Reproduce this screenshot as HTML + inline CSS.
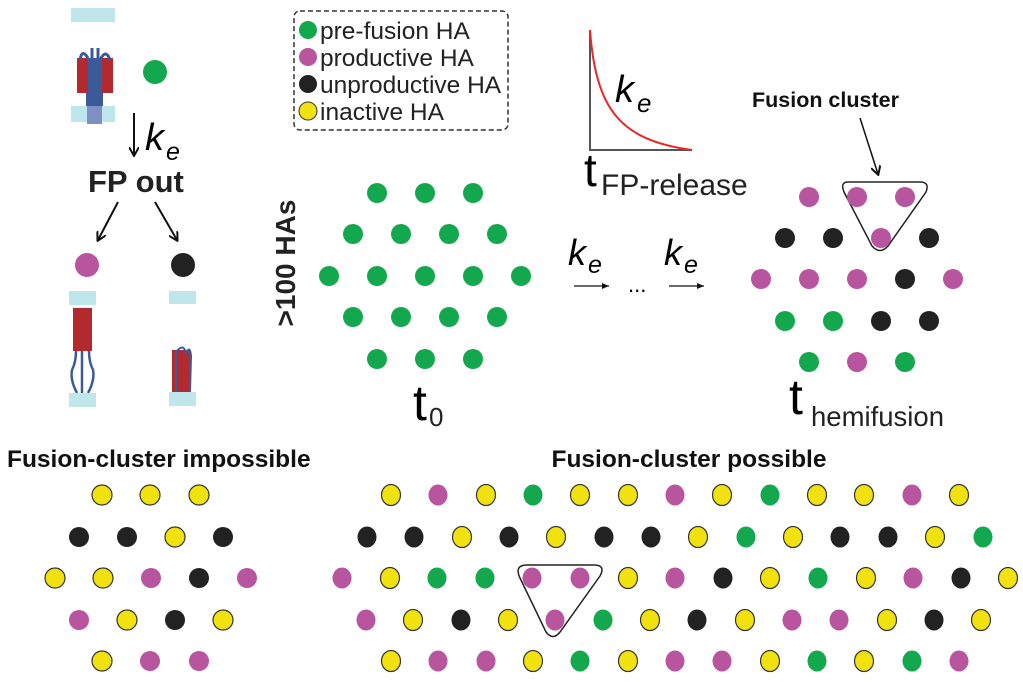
<!DOCTYPE html>
<html><head><meta charset="utf-8"><style>
html,body{margin:0;padding:0;background:#fff;width:1023px;height:682px;overflow:hidden}
svg{display:block;font-family:"Liberation Sans",Arial,sans-serif}
.Y{fill:#f1e20f;stroke:#333;stroke-width:1.2}
.M{fill:#b8559e}.B{fill:#222}.G{fill:#14a84e}
</style></head><body>
<svg width="1023" height="682" viewBox="0 0 1023 682" xmlns="http://www.w3.org/2000/svg">
<defs>
<marker id="ah" markerWidth="10" markerHeight="10" refX="8" refY="5" orient="auto" markerUnits="userSpaceOnUse"><path d="M0,0 L9,5 L0,10" fill="none" stroke="#111" stroke-width="2"/></marker>
<marker id="ah2" markerWidth="8" markerHeight="6" refX="7" refY="3" orient="auto" markerUnits="userSpaceOnUse"><path d="M0,0 L7,3 L0,6 Z" fill="#111"/></marker>
</defs>
<!-- left protein illustrations -->
<rect x="71" y="8" width="44" height="14" fill="#bfe6ea"/>
<rect x="71" y="106" width="44" height="16" fill="#bfe6ea"/>
<rect x="86" y="58" width="17" height="48" fill="#3a5a9a"/>
<rect x="77" y="58" width="11" height="35" fill="#b22a2e"/>
<rect x="102" y="58" width="11" height="35" fill="#b22a2e"/>
<rect x="87" y="106" width="15" height="18" fill="#7d8fc4"/>
<path d="M80,60 Q82,48 88,58 M92,58 L92,48 M98,58 L98,48 M100,60 Q106,48 110,60" stroke="#3a5a9a" stroke-width="3" fill="none"/>
<circle cx="155" cy="72" r="12" fill="#14a84e"/>
<line x1="134" y1="113" x2="134" y2="155" stroke="#111" stroke-width="2" marker-end="url(#ah)"/>
<text x="145" y="150" font-size="38" font-style="italic">k</text>
<text x="166" y="160" font-size="25" font-style="italic">e</text>
<text x="88" y="192" font-size="31" font-weight="bold" fill="#222">FP out</text>
<line x1="118" y1="202" x2="98" y2="240" stroke="#111" stroke-width="2" marker-end="url(#ah)"/>
<line x1="155" y1="202" x2="177" y2="240" stroke="#111" stroke-width="2" marker-end="url(#ah)"/>
<circle cx="87" cy="265" r="12" fill="#b8559e"/>
<circle cx="183" cy="265" r="12" fill="#222"/>
<rect x="69" y="291" width="27" height="14" fill="#bfe6ea"/>
<rect x="73" y="308" width="19" height="43" fill="#b22a2e"/>
<path d="M76,351 Q76,362 72,370 Q70,380 77,393 M82,351 L82,395 M89,351 Q89,362 93,370 Q95,380 88,393" stroke="#3a5a9a" stroke-width="2.5" fill="none"/>
<rect x="69" y="393" width="27" height="14" fill="#bfe6ea"/>
<rect x="169" y="291" width="27" height="13" fill="#bfe6ea"/>
<rect x="172" y="350" width="18" height="42" fill="#b22a2e"/>
<path d="M176,394 L176,352 Q184,342 186,354 Q190,344 191,356 L190,392" stroke="#3a5a9a" stroke-width="2" fill="none"/>
<rect x="169" y="392" width="27" height="14" fill="#bfe6ea"/>

<!-- legend -->
<rect x="294" y="11" width="214" height="119" rx="6" fill="none" stroke="#333" stroke-width="1.5" stroke-dasharray="5,3"/>
<circle cx="308" cy="30" r="9" fill="#14a84e"/>
<circle cx="308" cy="57" r="9" fill="#b8559e"/>
<circle cx="308" cy="84" r="9" fill="#222"/>
<circle cx="308" cy="111" r="9" fill="#f1e20f" stroke="#333" stroke-width="1"/>
<g font-size="24.5" fill="#222">
<text x="320" y="39">pre-fusion HA</text>
<text x="320" y="66">productive HA</text>
<text x="320" y="93">unproductive HA</text>
<text x="320" y="120">inactive HA</text>
</g>

<!-- plot -->
<path d="M590,30 L590,150 L692,150" stroke="#555" stroke-width="2" fill="none"/>
<path d="M590,30 C596,110 620,140 692,150" stroke="#e8282a" stroke-width="2" fill="none"/>
<text x="615" y="102" font-size="38" font-style="italic">k</text>
<text x="637" y="112" font-size="26" font-style="italic">e</text>
<text x="584" y="186" font-size="46">t</text>
<text x="601" y="195" font-size="30" fill="#222">FP-release</text>

<!-- >100 HAs -->
<text transform="translate(295,263) rotate(-90)" text-anchor="middle" font-size="28" font-weight="bold" fill="#222">&gt;100 HAs</text>

<!-- t0 hex -->
<g fill="#14a84e">
<circle cx="377" cy="193" r="10"/><circle cx="425" cy="193" r="10"/><circle cx="473" cy="193" r="10"/>
<circle cx="353" cy="234" r="10"/><circle cx="401" cy="234" r="10"/><circle cx="449" cy="234" r="10"/><circle cx="497" cy="234" r="10"/>
<circle cx="329" cy="276" r="10"/><circle cx="377" cy="276" r="10"/><circle cx="425" cy="276" r="10"/><circle cx="473" cy="276" r="10"/><circle cx="521" cy="276" r="10"/>
<circle cx="353" cy="317" r="10"/><circle cx="401" cy="317" r="10"/><circle cx="449" cy="317" r="10"/><circle cx="497" cy="317" r="10"/>
<circle cx="377" cy="359" r="10"/><circle cx="425" cy="359" r="10"/><circle cx="473" cy="359" r="10"/>
</g>
<text x="413" y="420" font-size="50">t</text>
<text x="429" y="426" font-size="26" fill="#222">0</text>

<!-- arrows k_e -->
<text x="568" y="265" font-size="36" font-style="italic">k</text>
<text x="588" y="273" font-size="25" font-style="italic">e</text>
<line x1="574" y1="286" x2="609" y2="286" stroke="#111" stroke-width="1.3" marker-end="url(#ah2)"/>
<text x="628" y="292" font-size="22">...</text>
<text x="664" y="265" font-size="36" font-style="italic">k</text>
<text x="684" y="273" font-size="25" font-style="italic">e</text>
<line x1="669" y1="286" x2="704" y2="286" stroke="#111" stroke-width="1.3" marker-end="url(#ah2)"/>

<!-- t hemifusion -->
<text x="752" y="107" font-size="21.5" font-weight="bold" fill="#111">Fusion cluster</text>
<line x1="860" y1="118" x2="878" y2="174" stroke="#111" stroke-width="1.5" marker-end="url(#ah)"/>
<path d="M848,182 L920,182 Q930,182 926,192 L888,246 Q880,255 872,246 L844,192 Q840,182 848,182 Z" fill="none" stroke="#222" stroke-width="1.5"/>
<g>
<circle cx="809" cy="197" r="10" fill="#b8559e"/><circle cx="857" cy="197" r="10" fill="#b8559e"/><circle cx="905" cy="197" r="10" fill="#b8559e"/>
<circle cx="785" cy="238" r="10" fill="#222"/><circle cx="833" cy="238" r="10" fill="#222"/><circle cx="881" cy="238" r="10" fill="#b8559e"/><circle cx="929" cy="238" r="10" fill="#222"/>
<circle cx="761" cy="279" r="10" fill="#b8559e"/><circle cx="809" cy="279" r="10" fill="#b8559e"/><circle cx="857" cy="279" r="10" fill="#b8559e"/><circle cx="905" cy="279" r="10" fill="#222"/><circle cx="953" cy="279" r="10" fill="#b8559e"/>
<circle cx="785" cy="321" r="10" fill="#14a84e"/><circle cx="833" cy="321" r="10" fill="#14a84e"/><circle cx="881" cy="321" r="10" fill="#222"/><circle cx="929" cy="321" r="10" fill="#222"/>
<circle cx="809" cy="362" r="10" fill="#14a84e"/><circle cx="857" cy="362" r="10" fill="#b8559e"/><circle cx="905" cy="362" r="10" fill="#14a84e"/>
</g>
<text x="789" y="414" font-size="50">t</text>
<text x="811" y="426" font-size="27.5" fill="#222">hemifusion</text>

<!-- bottom titles -->
<text x="7" y="467" font-size="24.5" font-weight="bold" fill="#111">Fusion-cluster impossible</text>
<text x="689" y="467" font-size="24.5" font-weight="bold" fill="#111" text-anchor="middle">Fusion-cluster possible</text>

<path d="M527,565 L594,565 Q606,565 600,576 L560,632 Q553,641 546,632 L520,578 Q514,565 527,565 Z" fill="none" stroke="#222" stroke-width="1.5"/>

<!-- bottom-left grid -->
<g>
<circle class="Y" cx="102" cy="495" r="10"/><circle class="Y" cx="150" cy="495" r="10"/><circle class="Y" cx="199" cy="495" r="10"/>
<circle class="B" cx="79" cy="537" r="10"/><circle class="B" cx="127" cy="537" r="10"/><circle class="Y" cx="175" cy="537" r="10"/><circle class="B" cx="223" cy="537" r="10"/>
<circle class="Y" cx="55" cy="578" r="10"/><circle class="Y" cx="103" cy="578" r="10"/><circle class="M" cx="151" cy="578" r="10"/><circle class="B" cx="199" cy="578" r="10"/><circle class="M" cx="247" cy="578" r="10"/>
<circle class="M" cx="79" cy="620" r="10"/><circle class="Y" cx="127" cy="620" r="10"/><circle class="B" cx="175" cy="620" r="10"/><circle class="Y" cx="223" cy="620" r="10"/>
<circle class="Y" cx="102" cy="661" r="10"/><circle class="M" cx="150" cy="661" r="10"/><circle class="M" cx="199" cy="661" r="10"/>
</g>
<!-- bottom-right grid -->
<g>
<ellipse class="Y" cx="391" cy="495" rx="9.5" ry="10.5"/><ellipse class="M" cx="438" cy="495" rx="9.5" ry="10.5"/><ellipse class="Y" cx="486" cy="495" rx="9.5" ry="10.5"/><ellipse class="G" cx="533" cy="495" rx="9.5" ry="10.5"/><ellipse class="Y" cx="580" cy="495" rx="9.5" ry="10.5"/><ellipse class="Y" cx="628" cy="495" rx="9.5" ry="10.5"/><ellipse class="M" cx="675" cy="495" rx="9.5" ry="10.5"/><ellipse class="Y" cx="722" cy="495" rx="9.5" ry="10.5"/><ellipse class="G" cx="770" cy="495" rx="9.5" ry="10.5"/><ellipse class="Y" cx="817" cy="495" rx="9.5" ry="10.5"/><ellipse class="Y" cx="864" cy="495" rx="9.5" ry="10.5"/><ellipse class="M" cx="912" cy="495" rx="9.5" ry="10.5"/><ellipse class="Y" cx="959" cy="495" rx="9.5" ry="10.5"/>

<ellipse class="B" cx="367" cy="537" rx="9.5" ry="10.5"/><ellipse class="B" cx="414" cy="537" rx="9.5" ry="10.5"/><ellipse class="Y" cx="462" cy="537" rx="9.5" ry="10.5"/><ellipse class="B" cx="509" cy="537" rx="9.5" ry="10.5"/><ellipse class="Y" cx="556" cy="537" rx="9.5" ry="10.5"/><ellipse class="B" cx="604" cy="537" rx="9.5" ry="10.5"/><ellipse class="B" cx="651" cy="537" rx="9.5" ry="10.5"/><ellipse class="Y" cx="698" cy="537" rx="9.5" ry="10.5"/><ellipse class="G" cx="746" cy="537" rx="9.5" ry="10.5"/><ellipse class="Y" cx="793" cy="537" rx="9.5" ry="10.5"/><ellipse class="B" cx="840" cy="537" rx="9.5" ry="10.5"/><ellipse class="B" cx="888" cy="537" rx="9.5" ry="10.5"/><ellipse class="Y" cx="935" cy="537" rx="9.5" ry="10.5"/><ellipse class="G" cx="983" cy="537" rx="9.5" ry="10.5"/>

<ellipse class="M" cx="342" cy="578" rx="9.5" ry="10.5"/><ellipse class="Y" cx="390" cy="578" rx="9.5" ry="10.5"/><ellipse class="G" cx="437" cy="578" rx="9.5" ry="10.5"/><ellipse class="G" cx="485" cy="578" rx="9.5" ry="10.5"/><ellipse class="M" cx="532" cy="578" rx="9.5" ry="10.5"/><ellipse class="M" cx="580" cy="578" rx="9.5" ry="10.5"/><ellipse class="Y" cx="628" cy="578" rx="9.5" ry="10.5"/><ellipse class="M" cx="675" cy="578" rx="9.5" ry="10.5"/><ellipse class="B" cx="723" cy="578" rx="9.5" ry="10.5"/><ellipse class="Y" cx="770" cy="578" rx="9.5" ry="10.5"/><ellipse class="G" cx="818" cy="578" rx="9.5" ry="10.5"/><ellipse class="Y" cx="866" cy="578" rx="9.5" ry="10.5"/><ellipse class="M" cx="913" cy="578" rx="9.5" ry="10.5"/><ellipse class="B" cx="961" cy="578" rx="9.5" ry="10.5"/><ellipse class="Y" cx="1008" cy="578" rx="9.5" ry="10.5"/>

<ellipse class="M" cx="366" cy="620" rx="9.5" ry="10.5"/><ellipse class="Y" cx="413" cy="620" rx="9.5" ry="10.5"/><ellipse class="B" cx="461" cy="620" rx="9.5" ry="10.5"/><ellipse class="Y" cx="508" cy="620" rx="9.5" ry="10.5"/><ellipse class="M" cx="555" cy="620" rx="9.5" ry="10.5"/><ellipse class="G" cx="603" cy="620" rx="9.5" ry="10.5"/><ellipse class="Y" cx="650" cy="620" rx="9.5" ry="10.5"/><ellipse class="B" cx="697" cy="620" rx="9.5" ry="10.5"/><ellipse class="Y" cx="745" cy="620" rx="9.5" ry="10.5"/><ellipse class="M" cx="792" cy="620" rx="9.5" ry="10.5"/><ellipse class="M" cx="839" cy="620" rx="9.5" ry="10.5"/><ellipse class="Y" cx="887" cy="620" rx="9.5" ry="10.5"/><ellipse class="B" cx="934" cy="620" rx="9.5" ry="10.5"/><ellipse class="Y" cx="981" cy="620" rx="9.5" ry="10.5"/>

<ellipse class="Y" cx="391" cy="661" rx="9.5" ry="10.5"/><ellipse class="M" cx="438" cy="661" rx="9.5" ry="10.5"/><ellipse class="M" cx="486" cy="661" rx="9.5" ry="10.5"/><ellipse class="Y" cx="533" cy="661" rx="9.5" ry="10.5"/><ellipse class="G" cx="580" cy="661" rx="9.5" ry="10.5"/><ellipse class="Y" cx="628" cy="661" rx="9.5" ry="10.5"/><ellipse class="M" cx="675" cy="661" rx="9.5" ry="10.5"/><ellipse class="M" cx="722" cy="661" rx="9.5" ry="10.5"/><ellipse class="Y" cx="770" cy="661" rx="9.5" ry="10.5"/><ellipse class="G" cx="817" cy="661" rx="9.5" ry="10.5"/><ellipse class="Y" cx="864" cy="661" rx="9.5" ry="10.5"/><ellipse class="G" cx="912" cy="661" rx="9.5" ry="10.5"/><ellipse class="M" cx="959" cy="661" rx="9.5" ry="10.5"/>
</g>
</svg>
</body></html>
